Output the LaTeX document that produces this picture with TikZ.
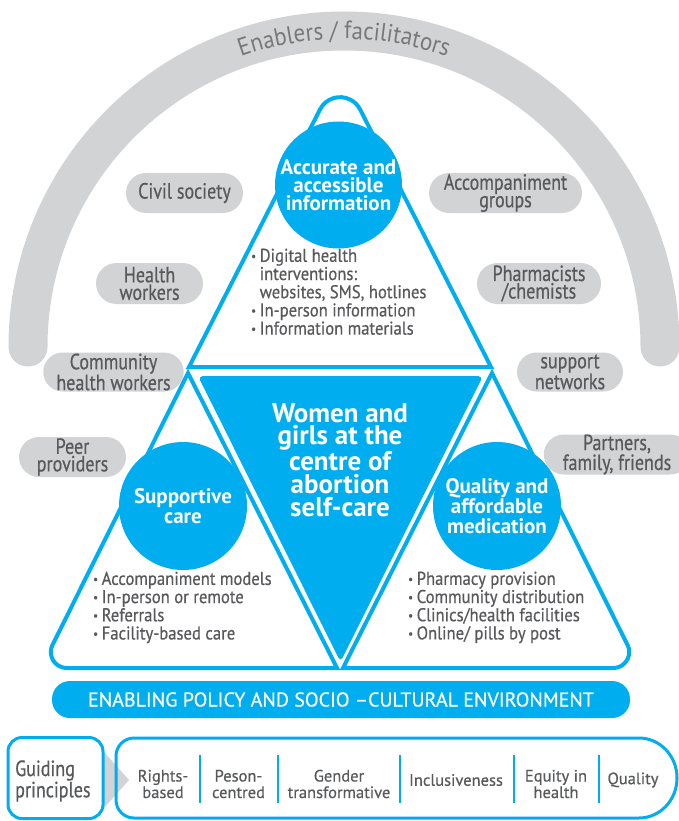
\documentclass[tikz,border=0pt]{standalone}
\usepackage{fontspec}
\setmainfont{PT Sans}
\newfontfamily\condf{PT Sans}[FakeStretch=0.82, FakeBold=0.5]
\newfontfamily\semif{PT Sans}[FakeStretch=0.9, FakeBold=0.5]
\newfontfamily\regf{PT Sans}[FakeBold=0.5]
\newfontfamily\archf{PT Sans}[FakeStretch=0.92]
\usetikzlibrary{decorations.text,shapes.misc}
\definecolor{wblue}{HTML}{00AEEF}
\definecolor{pgray}{HTML}{D1D3D4}
\definecolor{tgray}{HTML}{58595B}
\definecolor{agray}{HTML}{77787B}
\newcommand\fs[2]{\fontsize{#1}{#2}\selectfont}
\newcommand\bu{\makebox[8.5pt][l]{\raisebox{1.6pt}{\fs{12}{12}•}}}
\newcommand\ind{\hspace*{8.5pt}}
\begin{document}
\begin{tikzpicture}[x=1pt,y=-1pt,
  pill/.style={rounded rectangle, fill=pgray, text=tgray, align=center, inner sep=0pt, font=\condf\fs{22}{17.5}},
  tri/.style={draw=wblue, line width=4pt, line join=miter, fill=white},
  disc/.style={circle, fill=wblue, text=white, align=center, inner sep=0pt},
  blist/.style={text=tgray, align=left, inner sep=0pt, font=\semif\fs{18.5}{18.2}, anchor=north west},
  princ/.style={text=tgray, align=center, inner sep=0pt, font=\regf\fs{16.5}{16.5}},
  divl/.style={draw=wblue, line width=2.5pt},
  frame/.style={draw=wblue, line width=3pt}
]
\useasboundingbox (0,0) rectangle (679,821);
% arch
\draw[pgray, line width=39pt, line cap=round] (28,347) arc[start angle=180,end angle=0,radius=316pt];
\path[decorate, decoration={text along path, text align=center, text={|\archf\fs{25}{25}\color{agray}|Enablers / facilitators}}] (36,347) arc[start angle=180,end angle=0,radius=308pt];
% pills
\node[pill, minimum width=117pt, minimum height=40pt] (civ) at (184.5,193) {Civil society};
\node[pill, minimum width=153pt, minimum height=40pt] (acc) at (505.5,193) {Accompaniment\\groups};
\node[pill, minimum width=107pt, minimum height=41pt] (hw) at (149.5,283.5) {Health\\workers};
\node[pill, minimum width=124pt, minimum height=41pt] (ph) at (539,283.5) {Pharmacists\\/chemists};
\node[pill, minimum width=127pt, minimum height=39pt] (chw) at (113.5,372) {Community\\health workers};
\node[pill, minimum width=106pt, minimum height=39pt] (sn) at (570,372) {support\\networks};
\node[pill, minimum width=107pt, minimum height=40pt] (peer) at (72.5,457) {Peer\\providers};
\node[pill, minimum width=126pt, minimum height=40pt] (pfam) at (617,454.5) {Partners,\\family, friends};
% triangles
\draw[tri] (189,367) -- (320,109.45) arc[start angle=153,end angle=27,radius=22.5pt] -- (491,367) -- cycle;
\draw[tri] (188,373) -- (52.5,644.9) arc[start angle=153.6,end angle=270,radius=16pt] -- (337,668) -- cycle;
\draw[tri] (343,668) -- (613.2,668) arc[start angle=-90,end angle=26.4,radius=16pt] -- (492,373) -- cycle;
\fill[wblue, rounded corners=5pt] (198,376) -- (483,376) -- (340.5,662) -- cycle;
% circles
\node[disc, minimum size=127pt, font=\bfseries\fs{21}{18}] (info) at (338.5,185) {Accurate and\\accessible\\information};
\node[disc, minimum size=128pt, font=\bfseries\fs{21}{20}] (supp) at (183,506) {Supportive\\care};
\node[disc, minimum size=128pt, font=\bfseries\fs{21}{20}] (qual) at (497,506) {Quality and\\affordable\\medication};
\node[text=white, align=center, inner sep=0pt, font=\bfseries\fs{27}{22.7}] (women) at (340,460) {Women and\\girls at the\\centre of\\abortion\\self-care};
% lists
\node[blist] (infolist) at (251,248.5) {\bu Digital health\\\ind interventions:\\\ind websites, SMS, hotlines\\\bu In-person information\\\bu Information materials};
\node[blist] (supplist) at (93,571.5) {\bu Accompaniment models\\\bu In-person or remote\\\bu Referrals\\\bu Facility-based care};
\node[blist] (quallist) at (408,571.5) {\bu Pharmacy provision\\\bu Community distribution\\\bu Clinics/health facilities\\\bu Online/ pills by post};
% bar
\node[fill=wblue, rounded corners=18pt, minimum width=578pt, minimum height=37pt, text=white, font=\regf\fs{20}{20}] (bar) at (341,699.5) {ENABLING POLICY AND SOCIO –CULTURAL ENVIRONMENT};
% guiding principles
\coordinate (at1) at (104,752); \coordinate (at2) at (129,780); \coordinate (at3) at (104,808);
\fill[pgray] (at1) -- (at2) -- (at3) -- cycle;
\node[frame, rounded corners=14pt, minimum width=95pt, minimum height=81pt, inner sep=0pt] (guide) at (55.5,778) {};
\node[text=tgray, align=left, inner sep=0pt, font=\condf\fs{22}{17}, anchor=west] (guidetxt) at (15,781) {Guiding\\principles};
\draw[frame] (134,738) -- (639,738) arc[start angle=90,end angle=-90,x radius=38pt,y radius=40pt] -- (134,818) arc[start angle=270,end angle=180,radius=18pt] -- (116,756) arc[start angle=180,end angle=90,radius=18pt] -- cycle;
\foreach \xx/\nm in {200/d1,278/d2,400/d3,514/d4,599/d5}{
  \coordinate (\nm a) at (\xx,755); \coordinate (\nm b) at (\xx,803);
  \draw[divl] (\nm a) -- (\nm b);
}
\node[princ] (p1) at (163,784) {Rights-\\based};
\node[princ] (p2) at (238.5,784) {Peson-\\centred};
\node[princ] (p3) at (339,784) {Gender\\transformative};
\node[princ] (p4) at (456,780) {Inclusiveness};
\node[princ] (p5) at (556,784) {Equity in\\health};
\node[princ] (p6) at (633,780) {Quality};
\end{tikzpicture}
\end{document}
